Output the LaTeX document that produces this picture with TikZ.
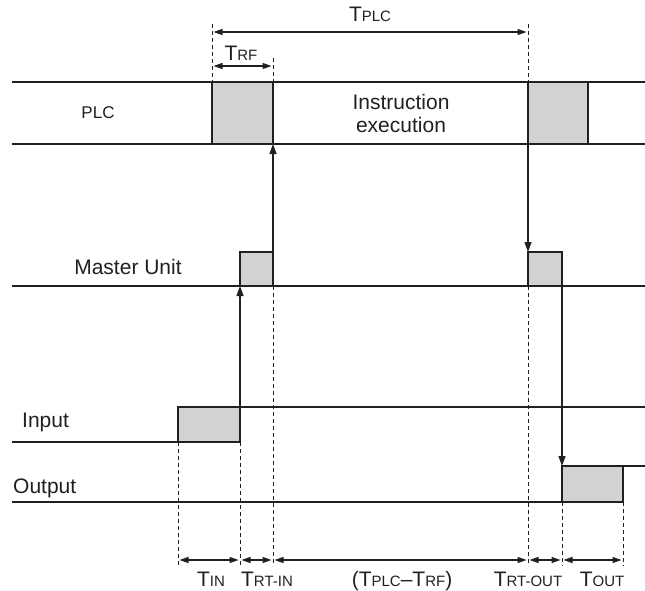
\documentclass[tikz,border=0pt]{standalone}
\usepackage{fontspec}
\setmainfont{Liberation Sans}
\usetikzlibrary{arrows.meta}
\definecolor{boxgray}{HTML}{D1D2D4}
\definecolor{ink}{HTML}{231F20}
\newcommand\tsub[2]{{\fontsize{21}{21}\selectfont #1}{\fontsize{15}{15}\selectfont #2}}
\begin{document}
\begin{tikzpicture}[x=1pt,y=-1pt,
  sig/.style={draw=ink,line width=1.3pt},
  pulse/.style={draw=ink,fill=boxgray,line width=1.6pt},
  guide/.style={draw=ink,line width=0.7pt,dash pattern=on 4pt off 3pt},
  flow/.style={draw=ink,line width=1.3pt,-{Triangle[length=10pt,width=7pt]}},
  span/.style={draw=ink,line width=1.2pt,{Triangle[length=9pt,width=6pt]}-{Triangle[length=9pt,width=6pt]},shorten <=1.5pt,shorten >=1.5pt},
  lbl/.style={font=\fontsize{21}{24}\selectfont,text=ink,anchor=base,inner sep=0pt},
  tlbl/.style={text=ink,anchor=base,inner sep=0pt}]
\useasboundingbox (0,0) rectangle (645,591);
% ---- PLC row
\draw[sig] (12,82) -- (645,82);
\draw[sig] (12,144) -- (645,144);
\path[pulse] (212,82) rectangle (273,144);
\path[pulse] (528,82) rectangle (588,144);
\coordinate (p1se) at (273,144);
\coordinate (p2sw) at (528,144);
\node[lbl,font=\fontsize{17}{20}\selectfont] (plclbl) at (98,119) {PLC};
\node[lbl] (instr1) at (401,110) {Instruction};
\node[lbl] (instr2) at (401,133) {execution};
% ---- Master row
\draw[sig] (12,286) -- (645,286);
\path[pulse] (240,252) rectangle (273,286);
\path[pulse] (528,252) rectangle (562,286);
\coordinate (m1sw) at (240,286);
\coordinate (m1ne) at (273,252);
\coordinate (m2nw) at (528,252);
\coordinate (m2se) at (562,286);
\node[lbl] (mulbl) at (128,274) {Master Unit};
% ---- Input row
\draw[sig] (12,442) -- (178,442);
\path[pulse] (178,407) rectangle (240,442);
\draw[sig] (240,407) -- (645,407);
\coordinate (ine) at (240,407);
\node[lbl,anchor=base west] (inlbl) at (22,427) {Input};
% ---- Output row
\draw[sig] (12,502) -- (562,502);
\path[pulse] (562,466) rectangle (623,502);
\draw[sig] (623,466) -- (645,466);
\coordinate (onw) at (562,466);
\node[lbl,anchor=base west] (outlbl) at (13,493) {Output};
% ---- signal arrows
\draw[flow] (ine) -- (m1sw);
\draw[flow] (m1ne) -- (p1se);
\draw[flow] (p2sw) -- (m2nw);
\draw[flow] (m2se) -- (onw);
% ---- top guides
\coordinate (ga) at (212,24);
\coordinate (gb) at (273,58);
\coordinate (gc) at (528,24);
\draw[guide] (ga) -- (212,82);
\draw[guide] (gb) -- (273,82);
\draw[guide] (gc) -- (528,82);
\draw[span] (212,32) coordinate (tpa) -- (528,32) coordinate (tpb);
\draw[span] (212,66) coordinate (tra) -- (273,66) coordinate (trb);
\node[tlbl] (tplc) at (370,22) {\tsub{T}{PLC}};
\node[tlbl] (trf) at (241,61) {\tsub{T}{RF}};
% ---- bottom guides
\foreach \x/\y in {178/442,240/442,273/286,528/286,562/502,623/502}{
  \draw[guide] (\x,\y) -- (\x,566);
}
\draw[span] (178,560) -- (240,560);
\draw[span] (240,560) -- (273,560);
\draw[span] (273,560) -- (528,560);
\draw[span] (528,560) -- (562,560);
\draw[span] (562,560) -- (623,560);
\node[tlbl] (tin) at (211,586) {\tsub{T}{IN}};
\node[tlbl] (trtin) at (267,586) {\tsub{T}{RT-IN}};
\node[tlbl] (tdiff) at (402,586) {{\fontsize{21}{21}\selectfont (}\tsub{T}{PLC}{\fontsize{21}{21}\selectfont –}\tsub{T}{RF}{\fontsize{21}{21}\selectfont )}};
\node[tlbl] (trtout) at (528,586) {\tsub{T}{RT-OUT}};
\node[tlbl] (tout) at (602,586) {\tsub{T}{OUT}};
\end{tikzpicture}
\end{document}
